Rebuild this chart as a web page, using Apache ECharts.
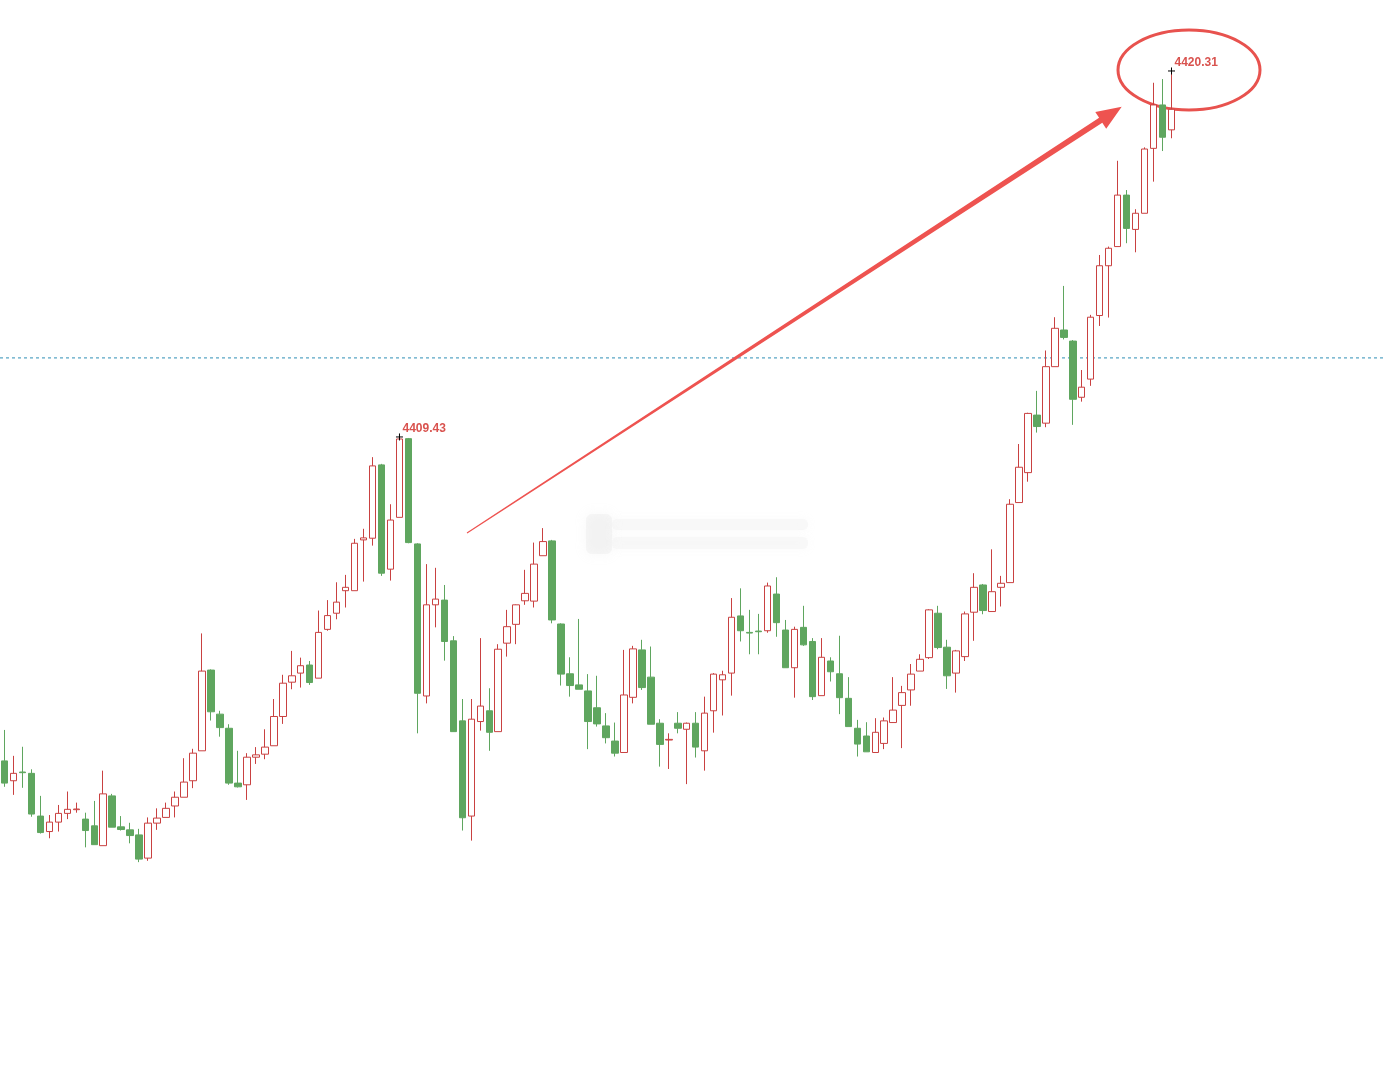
<!DOCTYPE html>
<html>
<head>
<meta charset="utf-8">
<style>
html,body{margin:0;padding:0;background:#fff;}
#main{width:1386px;height:1066px;}
</style>
<script src="https://cdn.jsdelivr.net/npm/echarts@6/dist/echarts.min.js"></script>
</head>
<body>
<div id="main"></div>
<script>
// OHLC values, one entry per candle (left to right)
const opens = [4399.80,4399.21,4399.47,4399.43,4398.16,4397.70,4397.98,4398.24,4398.35,4398.07,
4397.87,4397.28,4398.76,4397.84,4397.75,4397.60,4396.91,4397.95,4398.12,4398.46,
4398.72,4399.21,4400.10,4402.50,4401.19,4400.77,4399.14,4399.09,4399.91,4400.00,
4400.25,4401.12,4402.14,4402.41,4402.65,4402.26,4403.71,4404.19,4404.86,4404.86,
4406.37,4406.42,4408.60,4405.50,4407.04,4409.38,4406.25,4401.73,4404.44,4404.58,
4403.37,4400.99,4398.16,4400.97,4401.29,4400.67,4403.30,4403.86,4404.56,4404.55,
4405.90,4406.34,4403.87,4402.39,4402.06,4401.88,4401.38,4400.84,4400.39,4400.05,
4401.69,4403.10,4402.29,4400.92,4400.42,4400.92,4400.74,4400.92,4400.10,4401.29,
4402.21,4402.41,4404.11,4403.62,4403.66,4403.67,4404.76,4403.69,4402.57,4403.77,
4403.35,4401.74,4402.77,4402.39,4401.66,4400.77,4400.54,4400.05,4400.32,4400.94,
4401.45,4401.91,4402.47,4402.87,4404.19,4403.18,4402.41,4402.90,4404.22,4405.03,
4404.24,4404.96,4405.10,4407.48,4408.37,4410.08,4409.84,4411.52,4412.61,4412.28,
4410.61,4411.15,4413.04,4414.52,4415.09,4416.62,4415.60,4416.08,4418.01,4419.30,
4418.56];
const closes = [4399.14,4399.43,4399.45,4398.22,4397.67,4397.98,4398.24,4398.36,4398.37,4397.73,
4397.31,4398.82,4397.83,4397.76,4397.58,4396.88,4397.95,4398.10,4398.39,4398.72,
4399.17,4400.03,4402.47,4401.26,4400.79,4399.14,4399.03,4399.91,4399.98,4400.21,
4401.12,4402.11,4402.33,4402.63,4402.13,4403.62,4404.12,4404.52,4404.96,4406.27,
4406.43,4408.57,4405.38,4406.96,4409.37,4406.29,4401.81,4404.44,4404.61,4403.35,
4400.67,4398.11,4401.04,4401.43,4400.65,4403.12,4403.79,4404.44,4404.78,4405.65,
4406.32,4403.99,4402.38,4402.04,4401.93,4400.97,4400.90,4400.49,4400.03,4401.76,
4403.13,4401.98,4400.89,4400.29,4400.44,4400.77,4400.92,4400.21,4401.22,4402.38,
4402.36,4404.07,4403.67,4403.60,4403.64,4405.00,4403.91,4402.57,4403.71,4403.25,
4401.71,4402.88,4402.45,4401.68,4400.82,4400.30,4400.07,4400.65,4400.99,4401.31,
4401.83,4402.38,4402.82,4404.29,4403.17,4402.33,4403.07,4404.17,4404.96,4404.27,
4404.83,4405.08,4407.43,4408.53,4410.13,4409.74,4411.52,4412.66,4412.39,4410.55,
4410.91,4412.99,4414.52,4415.04,4416.62,4415.63,4416.08,4417.99,4419.30,4418.34,
4419.17];
const lows = [4399.03,4398.79,4399.00,4398.14,4397.64,4397.50,4397.70,4398.07,4398.26,4397.23,
4397.31,4397.28,4397.83,4397.73,4397.35,4396.79,4396.83,4397.75,4398.12,4398.12,
4398.72,4398.99,4400.10,4401.00,4400.52,4399.09,4399.01,4398.64,4399.71,4399.85,
4400.25,4400.90,4401.93,4401.98,4402.06,4402.26,4403.67,4404.01,4404.36,4404.86,
4405.13,4406.20,4405.30,4405.16,4407.04,4406.27,4400.62,4401.51,4403.77,4402.78,
4400.67,4397.73,4397.43,4400.70,4400.10,4400.67,4402.90,4403.27,4404.44,4404.36,
4405.90,4403.89,4402.04,4401.71,4401.93,4400.15,4400.82,4400.32,4399.93,4400.05,
4401.51,4401.91,4400.89,4399.63,4399.56,4400.62,4399.11,4399.90,4399.51,4400.64,
4401.15,4401.74,4403.35,4402.97,4402.97,4403.61,4403.49,4402.57,4401.68,4403.22,
4401.61,4401.74,4402.16,4401.19,4400.82,4399.93,4400.07,4400.05,4400.15,4400.93,
4400.18,4401.44,4402.47,4402.83,4403.12,4401.94,4401.83,4402.77,4403.37,4404.16,
4404.24,4404.39,4405.10,4407.48,4408.10,4409.56,4409.72,4411.52,4412.33,4409.79,
4410.48,4410.95,4412.73,4412.98,4415.09,4415.19,4414.92,4416.08,4417.02,4417.93,
4418.31];
const highs = [4400.72,4399.95,4400.22,4399.55,4398.76,4398.19,4398.49,4398.89,4398.56,4398.26,
4398.61,4399.51,4398.82,4398.16,4397.96,4397.78,4398.12,4398.39,4398.56,4398.89,
4399.88,4400.16,4403.59,4402.52,4401.29,4400.89,4400.10,4400.03,4400.21,4400.74,
4401.64,4402.36,4403.07,4402.87,4402.77,4404.27,4404.58,4405.11,4405.33,4406.40,
4406.70,4408.83,4408.63,4407.43,4409.43,4409.40,4406.27,4405.65,4405.54,4405.03,
4403.51,4401.64,4401.64,4403.45,4401.96,4403.27,4404.29,4404.45,4405.48,4406.29,
4406.72,4406.37,4403.89,4402.88,4404.02,4402.38,4402.33,4401.22,4400.94,4403.10,
4403.22,4403.40,4403.20,4401.04,4400.62,4401.25,4400.94,4401.25,4401.71,4402.41,
4402.48,4404.64,4404.93,4404.29,4404.17,4405.10,4405.26,4403.99,4403.79,4404.41,
4403.45,4403.45,4402.88,4403.52,4402.29,4401.02,4400.95,4401.07,4401.09,4402.29,
4402.03,4402.68,4402.97,4404.31,4404.41,4403.40,4403.10,4404.24,4405.38,4405.06,
4406.09,4405.30,4407.58,4409.22,4410.15,4410.80,4412.00,4412.99,4413.92,4412.31,
4411.42,4413.06,4414.84,4415.09,4417.64,4416.77,4416.20,4418.04,4419.96,4420.07,
4420.31];
// annotated highs: [candle index, price]
const markedHighs = [[44, 4409.43], [130, 4420.31]];
// dashed reference level
const refLevel = 4411.78;
// axis value range covering the picture
const yMin = 4390.73, yMax = 4422.42;

const categories = opens.map((_, i) => String(i + 1));
const ohlc = opens.map((o, i) => [o, closes[i], lows[i], highs[i]]);

const RED = '#c94141', GREEN = '#5fa65f';
const chart = echarts.init(document.getElementById('main'), null, {renderer: 'canvas'});
chart.setOption({
  backgroundColor: '#ffffff',
  animation: false,
  grid: {left: -3, top: 0, width: 1179, bottom: 0, containLabel: false},
  xAxis: {type: 'category', data: categories, boundaryGap: true, show: false},
  yAxis: {type: 'value', min: yMin, max: yMax, show: false, splitLine: {show: false}},
  series: [{
    type: 'candlestick',
    data: ohlc,
    barWidth: 7,
    itemStyle: {color: '#ffffff', color0: GREEN, borderColor: RED, borderColor0: GREEN, borderWidth: 1},
    emphasis: {disabled: true},
    markPoint: {
      symbol: 'path://M0,5L10,5M5,0L5,10',
      symbolSize: 7,
      silent: true,
      itemStyle: {color: 'none', borderColor: '#000', borderWidth: 1},
      label: {
        show: true, position: 'right', distance: 1, offset: [-4, -8],
        color: '#d9534f', fontWeight: 'bold', fontSize: 12, fontFamily: 'Liberation Sans, Arial',
        formatter: p => p.data.coord[1].toFixed(2)
      },
      data: markedHighs.map(m => ({coord: m}))
    }
  }]
});

const lineY = chart.convertToPixel({yAxisIndex: 0}, refLevel);
chart.setOption({
  graphic: [
    // faint blurred watermark
    {type: 'rect', shape: {x: 586, y: 514, width: 26, height: 40, r: 6}, silent: true,
     style: {fill: 'rgba(225,225,225,0.28)', shadowBlur: 12, shadowColor: 'rgba(215,215,215,0.6)'}},
    {type: 'rect', shape: {x: 612, y: 519, width: 196, height: 11, r: 5}, silent: true,
     style: {fill: 'rgba(235,235,235,0.25)', shadowBlur: 8, shadowColor: 'rgba(225,225,225,0.5)'}},
    {type: 'rect', shape: {x: 612, y: 537, width: 196, height: 12, r: 5}, silent: true,
     style: {fill: 'rgba(235,235,235,0.25)', shadowBlur: 8, shadowColor: 'rgba(225,225,225,0.5)'}},
    // dashed level line
    {type: 'line', shape: {x1: 0, y1: lineY, x2: 1386, y2: lineY}, silent: true,
     style: {stroke: '#2e8fb5', lineWidth: 1, lineDash: [3, 3]}},
    // tapered arrow
    {type: 'polygon', silent: true,
     shape: {points: [[466.7,532.6],[1099.1,117.8],[1095.3,111.9],[1121.7,106.7],[1106.2,128.7],[1102.3,122.8],[467.3,533.4]]},
     style: {fill: '#ee5350'}},
    // ellipse round the latest high
    {type: 'ellipse', silent: true, shape: {cx: 1189, cy: 70, rx: 71, ry: 40},
     style: {fill: 'none', stroke: '#e8524e', lineWidth: 3}}
  ]
});
</script>
</body>
</html>
